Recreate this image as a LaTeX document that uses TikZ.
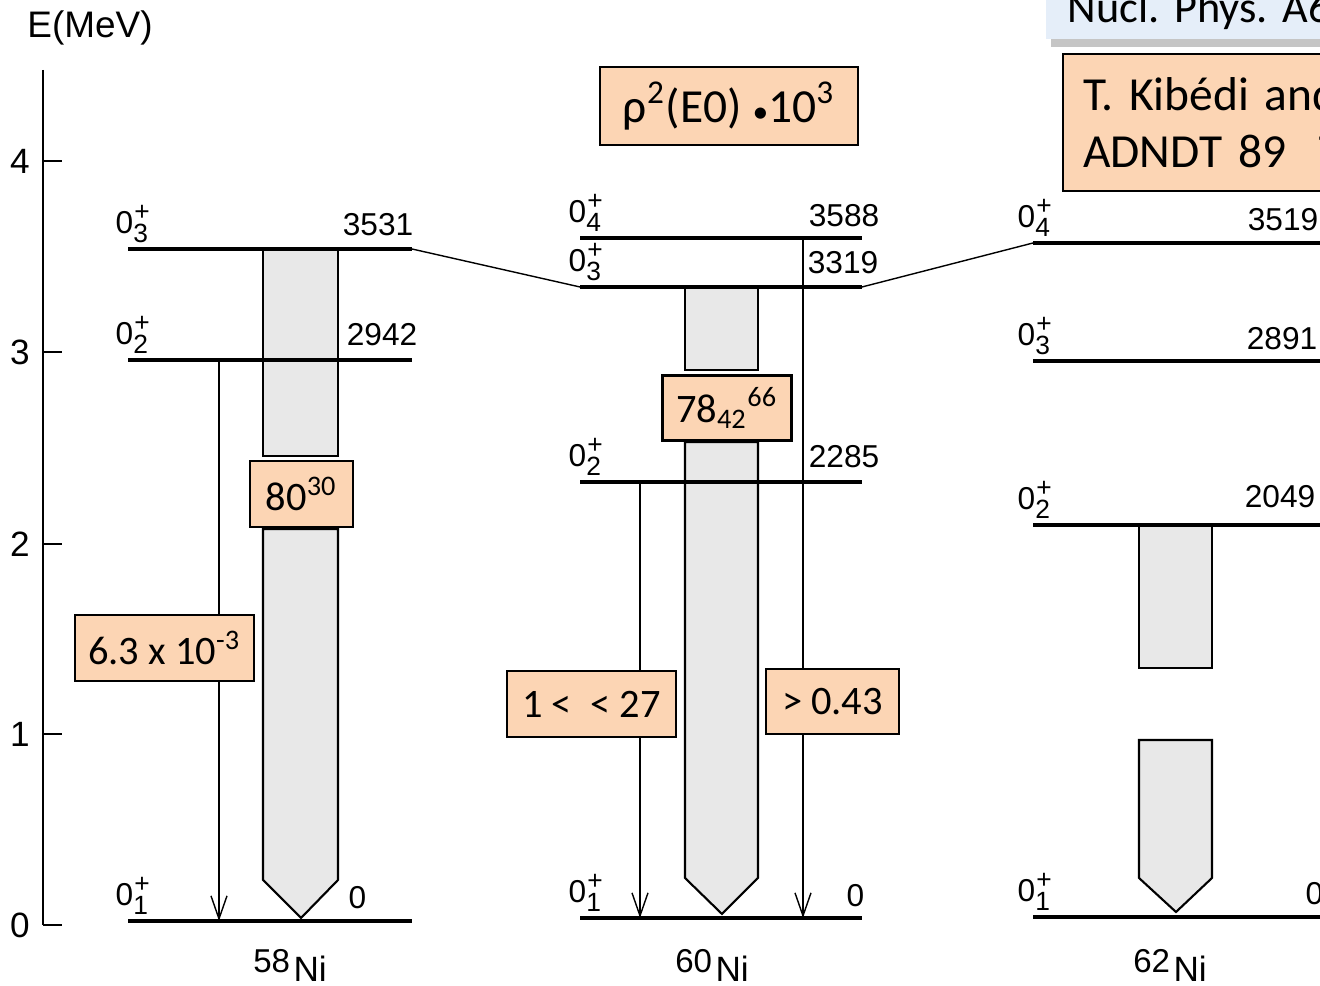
\documentclass[tikz,border=0pt]{standalone}
\usepackage{fontspec}
\setmainfont{Liberation Sans}
\newfontfamily\calfont{Carlito}
\usetikzlibrary{arrows.meta,shadows}
\definecolor{peach}{HTML}{FCD5B4}
\definecolor{paleblue}{HTML}{E5EEF9}
\newcommand{\zp}[1]{0\rlap{\raisebox{0.8ex}{\fontsize{7.5}{8}\selectfont\kern0.3pt+}}%
  \raisebox{-0.5ex}{\fontsize{7.5}{8}\selectfont #1}}
\newcommand{\nucl}[1]{{\fontsize{9.4}{10}\selectfont\raisebox{2.6pt}{#1}}\kern1pt Ni}
\frenchspacing
\tikzset{
  lvl/.style  = {line width=1.1pt},
  lnk/.style  = {line width=0.4pt},
  gam/.style  = {line width=0.4pt, -{Straight Barb[length=2.3mm,width=1.6mm]}},
  band/.style = {draw, line width=0.6pt, fill=black!9},
  spin/.style = {anchor=south west, inner sep=0pt, font=\fontsize{9}{10}\selectfont},
  en/.style   = {anchor=base east, inner sep=0pt, font=\fontsize{9}{10}\selectfont},
  val/.style  = {draw, line width=0.6pt, fill=peach, inner sep=0pt,
                 font=\calfont\fontsize{11.5}{13}\selectfont}
}

\begin{document}
\begin{tikzpicture}[x=0.01cm,y=-0.01cm]
\useasboundingbox (0,0) rectangle (1320,986);

% energy axis
\draw[line width=0.8pt] (43,70) -- (43,925);
\foreach \e/\y in {0/925,1/734,2/544,3/352,4/161}{
  \draw[line width=0.6pt] (43,\y) -- (62,\y);
  \node[font=\fontsize{10}{11}\selectfont] (ax\e) at (20,\y) {\e};
}
\node[font=\fontsize{10.5}{12}\selectfont] (eunit) at (90,28) {E(MeV)};

% E0 strength bands
\draw[band] (263,249) rectangle (338,456);
\draw[band] (263,529) -- (263,880) -- (301,918) -- (338,880) -- (338,529) -- cycle;
\draw[band] (685,287) rectangle (758,370);
\draw[band] (685,442) -- (685,878) -- (722,914) -- (758,878) -- (758,442) -- cycle;
\draw[band] (1139,525) rectangle (1212,668);
\draw[band] (1139,740) -- (1139,878) -- (1176,912) -- (1212,878) -- (1212,740) -- cycle;

% levels 58Ni
\coordinate (A0l) at (128,921); \coordinate (A0r) at (412,921);
\coordinate (A2l) at (128,360); \coordinate (A2r) at (412,360);
\coordinate (A3l) at (128,249); \coordinate (A3r) at (412,249);
% levels 60Ni
\coordinate (B0l) at (580,918); \coordinate (B0r) at (862,918);
\coordinate (B2l) at (580,482); \coordinate (B2r) at (862,482);
\coordinate (B3l) at (580,287); \coordinate (B3r) at (862,287);
\coordinate (B4l) at (580,238); \coordinate (B4r) at (862,238);
% levels 62Ni
\coordinate (C0l) at (1033,917); \coordinate (C0r) at (1320,917);
\coordinate (C2l) at (1033,525); \coordinate (C2r) at (1320,525);
\coordinate (C3l) at (1033,361); \coordinate (C3r) at (1320,361);
\coordinate (C4l) at (1033,243); \coordinate (C4r) at (1320,243);

% weak transitions
\coordinate (g58) at (219,360);   % from 2942
\coordinate (g58e) at (219,921);
\coordinate (g60a) at (640,482);  % from 2285
\coordinate (g60ae) at (640,918);
\coordinate (g60b) at (803,238);  % from 3588
\coordinate (g60be) at (803,918);
\draw[gam] (g58) -- (g58e);
\draw[gam] (g60a) -- (g60ae);
\draw[gam] (g60b) -- (g60be);

\foreach \n in {A0,A2,A3,B0,B2,B3,B4,C0,C2,C3,C4}
  \draw[lvl] (\n l) -- (\n r);
\draw[lnk] (A3r) -- (B3l);
\draw[lnk] (B3r) -- (C4l);

% spin labels
\node[spin] (sA3) at (115,243) {\zp{3}};
\node[spin] (sA2) at (115,354) {\zp{2}};
\node[spin] (sA0) at (115,915) {\zp{1}};
\node[spin] (sB4) at (568,232) {\zp{4}};
\node[spin] (sB3) at (568,281) {\zp{3}};
\node[spin] (sB2) at (568,476) {\zp{2}};
\node[spin] (sB0) at (568,912) {\zp{1}};
\node[spin] (sC4) at (1017,237) {\zp{4}};
\node[spin] (sC3) at (1017,355) {\zp{3}};
\node[spin] (sC2) at (1017,519) {\zp{2}};
\node[spin] (sC0) at (1017,911) {\zp{1}};

% energies (keV)
\node[en] (eA3) at (414,236) {3531};
\node[en] (eA2) at (418,346) {2942};
\node[en] (eA0) at (367,909) {0};
\node[en] (eB4) at (880,227) {3588};
\node[en] (eB3) at (879,274) {3319};
\node[en] (eB2) at (880,468) {2285};
\node[en] (eB0) at (865,907) {0};
\node[en] (eC4) at (1319,231) {3519};
\node[en] (eC3) at (1318,350) {2891};
\node[en] (eC2) at (1316,508) {2049};
\node[en] (eC0) at (1324,905) {0};

% nuclides
\node[anchor=base, font=\fontsize{10}{12}\selectfont] (ni58) at (290,982) {\nucl{58}};
\node[anchor=base, font=\fontsize{10}{12}\selectfont] (ni60) at (712,982) {\nucl{60}};
\node[anchor=base, font=\fontsize{10}{12}\selectfont] (ni62) at (1170,982) {\nucl{62}};

% rho^2 values
\node[val, minimum width=1.03cm, minimum height=0.66cm] (r58a) at (301.5,494) {80\textsuperscript{30}};
\node[val, minimum width=1.79cm, minimum height=0.66cm] (r58b) at (164.5,648) {6.3 x 10\textsuperscript{-3}};
\node[val, minimum width=1.29cm, minimum height=0.65cm] (r60a) at (727,408) {78\textsubscript{42}\textsuperscript{66}};
\node[val, minimum width=1.69cm, minimum height=0.66cm] (r60b) at (591.5,704) {1 < \ < 27};
\node[val, minimum width=1.33cm, minimum height=0.65cm] (r60c) at (832.5,701.5) {> 0.43};
\node[val, minimum width=2.58cm, minimum height=0.78cm,
      font=\calfont\fontsize{13.5}{15}\selectfont] (unit) at (729,106)
      {ρ\textsuperscript{2}(E0) {\fontsize{9}{10}\selectfont•}10\textsuperscript{3}};

% references
\node[anchor=south west, fill=paleblue, minimum height=0.58cm, text width=5cm, align=left,
      inner xsep=0.22cm, inner ysep=0pt, font=\calfont\fontsize{12.6}{15}\selectfont,
      drop shadow={shadow xshift=0.5mm, shadow yshift=-0.8mm, fill=black!45, opacity=0.5}]
      (src) at (1045,40) {Nucl. Phys. A65};
\node[val, anchor=north west, minimum height=1.37cm, text width=3.5cm, align=left,
      inner xsep=0.2cm, font=\calfont\fontsize{13.5}{16.3}\selectfont]
      (cite) at (1062,53) {T. Kibédi and\\ADNDT 89\ \ 7};
\end{tikzpicture}
\end{document}
